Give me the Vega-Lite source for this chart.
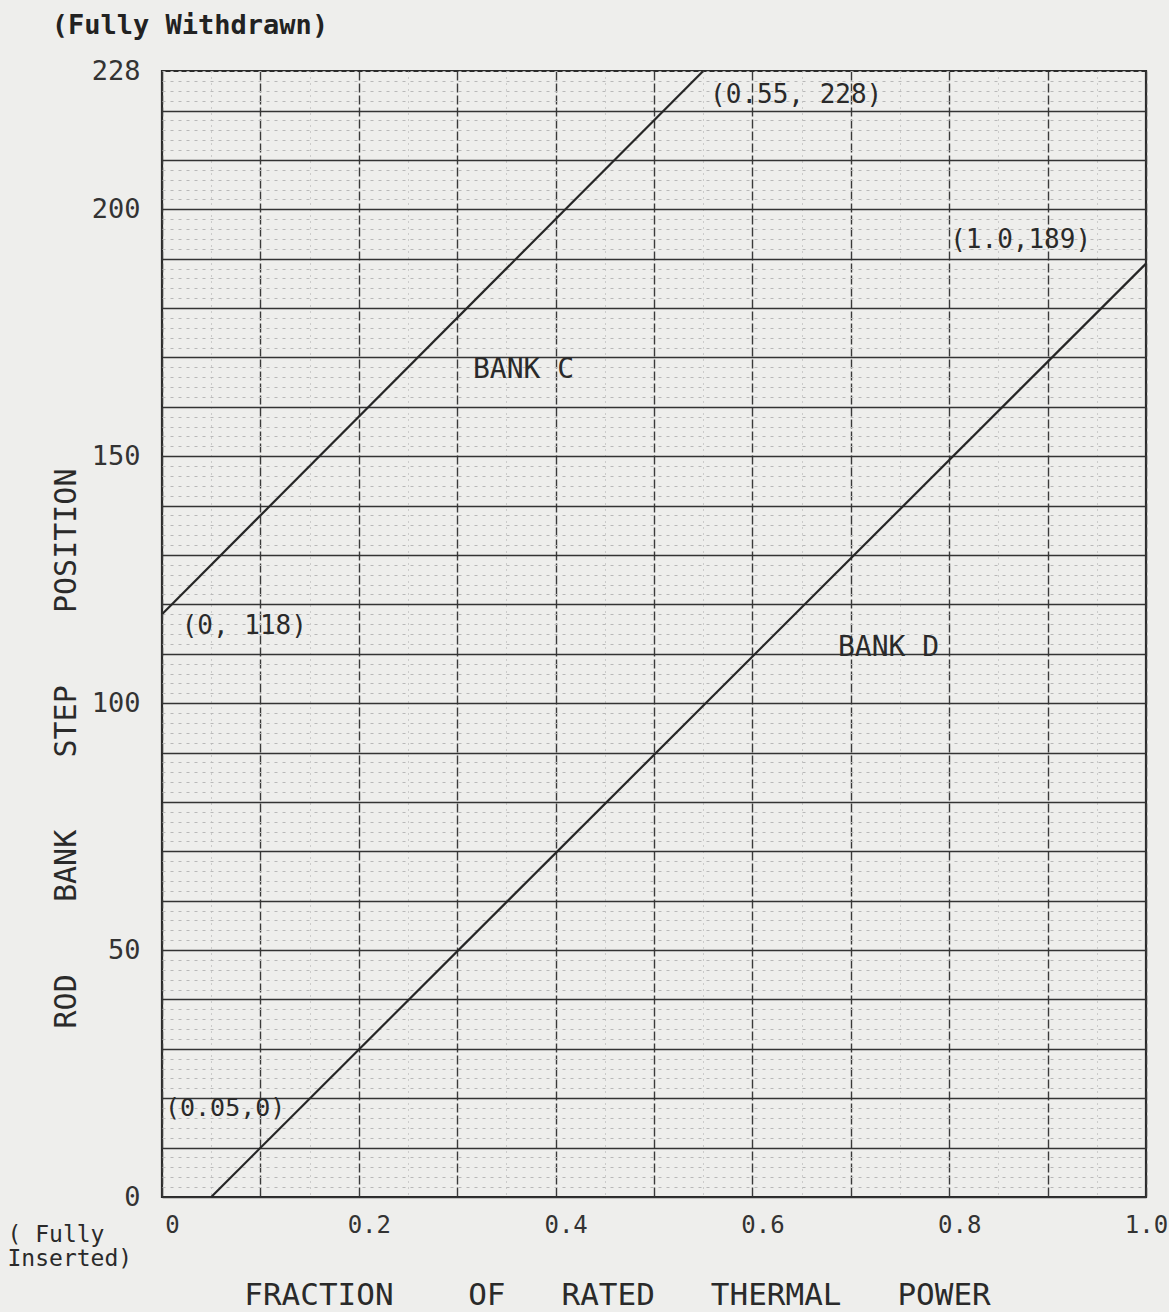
{
  "$schema": "https://vega.github.io/schema/vega-lite/v6.json",
  "width": 984,
  "height": 1126,
  "autosize": {"type": "none"},
  "padding": {"left": 162, "top": 71, "right": 23, "bottom": 115},
  "background": "#eeeeec",
  "config": {
    "view": {"stroke": "#2a2a2a", "strokeWidth": 2.2, "fill": "#eeeeec"},
    "font": "DejaVu Sans Mono"
  },
  "resolve": {"axis": {"y": "independent"}},
  "datasets": {
    "lines": [
      {"bank": "C", "fraction": 0, "steps": 118},
      {"bank": "C", "fraction": 0.55, "steps": 228},
      {"bank": "D", "fraction": 0.05, "steps": 0},
      {"bank": "D", "fraction": 1.0, "steps": 189}
    ],
    "notes": [
      {"label": "(0.55, 228)", "fx": 0.557, "fy": 223.1, "size": 26},
      {"label": "(1.0,189)", "fx": 0.801, "fy": 193.8, "size": 26},
      {"label": "BANK  C", "fx": 0.316, "fy": 167.5, "size": 28},
      {"label": "BANK  D", "fx": 0.687, "fy": 111.2, "size": 28},
      {"label": "(0, 118)", "fx": 0.02, "fy": 115.6, "size": 26},
      {"label": "(0.05,0)", "fx": 0.003, "fy": 18.0, "size": 25}
    ],
    "inserted": [
      {"label": "( Fully\nInserted)", "fx": -0.157, "fy": -5.5}
    ],
    "withdrawn": [
      {"label": "(Fully Withdrawn)", "fx": -0.112, "fy": 239.8}
    ]
  },
  "layer": [
    {
      "data": {"name": "lines"},
      "mark": {"type": "line", "color": "#262626", "strokeWidth": 2.2},
      "encoding": {
        "x": {
          "field": "fraction",
          "type": "quantitative",
          "scale": {"domain": [0, 1], "nice": false, "zero": false},
          "axis": {
            "values": [0, 0.05, 0.1, 0.15, 0.2, 0.25, 0.3, 0.35, 0.4, 0.45, 0.5, 0.55, 0.6, 0.65, 0.7, 0.75, 0.8, 0.85, 0.9, 0.95, 1.0],
            "labelExpr": "round(datum.value*20) % 4 === 0 ? (datum.value === 0 ? '0' : format(datum.value, '.1f')) : ''",
            "labelOverlap": false,
            "labelFlush": false,
            "labelBound": false,
            "labelFont": "DejaVu Sans Mono",
            "labelFontSize": 24,
            "labelColor": "#333333",
            "labelPadding": 16,
            "labelOffset": {"condition": {"test": "datum.value >= 0.99", "value": 0}, "value": 10},
            "ticks": false,
            "domain": false,
            "grid": true,
            "gridColor": {"condition": {"test": "round(datum.value*20) % 2 === 0", "value": "#3a3a3a"}, "value": "#a8a8a8"},
            "gridDash": {"condition": {"test": "round(datum.value*20) % 2 === 0", "value": [9, 3]}, "value": [1, 5]},
            "gridWidth": {"condition": {"test": "round(datum.value*20) % 2 === 0", "value": 1.4}, "value": 1},
            "title": "FRACTION\u00a0\u00a0\u00a0\u00a0OF\u00a0\u00a0\u00a0RATED\u00a0\u00a0\u00a0THERMAL\u00a0\u00a0\u00a0POWER",
            "titleFont": "DejaVu Sans Mono",
            "titleFontSize": 31,
            "titleFontWeight": "normal",
            "titleColor": "#2a2a2a",
            "titleX": 455,
            "titleY": 107,
            "titleAlign": "center",
            "titleBaseline": "alphabetic"
          }
        },
        "y": {
          "field": "steps",
          "type": "quantitative",
          "scale": {"domain": [0, 228], "nice": false, "zero": false},
          "axis": {
            "orient": "left",
            "values": [0,2,4,6,8,10,12,14,16,18,20,22,24,26,28,30,32,34,36,38,40,42,44,46,48,50,52,54,56,58,60,62,64,66,68,70,72,74,76,78,80,82,84,86,88,90,92,94,96,98,100,102,104,106,108,110,112,114,116,118,120,122,124,126,128,130,132,134,136,138,140,142,144,146,148,150,152,154,156,158,160,162,164,166,168,170,172,174,176,178,180,182,184,186,188,190,192,194,196,198,200,202,204,206,208,210,212,214,216,218,220,222,224,226,228],
            "labels": false,
            "ticks": false,
            "domain": false,
            "title": null,
            "grid": true,
            "gridColor": {"condition": {"test": "datum.value % 10 === 0", "value": "#333333"}, "value": "#b8b8b8"},
            "gridDash": {"condition": {"test": "datum.value % 10 === 0", "value": []}, "value": [3, 5]},
            "gridWidth": {"condition": {"test": "datum.value % 10 === 0", "value": 1.7}, "value": 1}
          }
        },
        "detail": {"field": "bank"}
      }
    },
    {
      "data": {"name": "notes"},
      "mark": {"type": "text", "align": "left", "baseline": "middle", "color": "#2a2a2a", "font": "DejaVu Sans Mono"},
      "encoding": {
        "x": {"field": "fx", "type": "quantitative"},
        "y": {
          "field": "fy",
          "type": "quantitative",
          "axis": {
            "orient": "left",
            "values": [0, 50, 100, 150, 200, 228],
            "labelOverlap": false,
            "labelBound": false,
            "labelFlush": false,
            "labelFont": "DejaVu Sans Mono",
            "labelFontSize": 27,
            "labelColor": "#333333",
            "labelPadding": 22,
            "ticks": false,
            "domain": false,
            "grid": false,
            "title": "ROD\u00a0\u00a0\u00a0\u00a0BANK\u00a0\u00a0\u00a0\u00a0STEP\u00a0\u00a0\u00a0\u00a0POSITION",
            "titleFont": "DejaVu Sans Mono",
            "titleFontSize": 30,
            "titleFontWeight": "normal",
            "titleColor": "#2a2a2a",
            "titleAngle": 270,
            "titleX": -87,
            "titleY": 677,
            "titleAlign": "center",
            "titleBaseline": "alphabetic"
          }
        },
        "text": {"field": "label"},
        "size": {"field": "size", "type": "quantitative", "scale": null}
      }
    },
    {
      "data": {"name": "inserted"},
      "mark": {"type": "text", "align": "left", "baseline": "top", "color": "#2a2a2a", "font": "DejaVu Sans Mono", "fontSize": 23, "lineBreak": "\n", "lineHeight": 24},
      "encoding": {
        "x": {"field": "fx", "type": "quantitative"},
        "y": {"field": "fy", "type": "quantitative", "axis": null},
        "text": {"field": "label"}
      }
    },
    {
      "data": {"name": "withdrawn"},
      "mark": {"type": "text", "align": "left", "baseline": "top", "color": "#222222", "font": "DejaVu Sans Mono", "fontSize": 27, "fontWeight": "bold"},
      "encoding": {
        "x": {"field": "fx", "type": "quantitative"},
        "y": {"field": "fy", "type": "quantitative", "axis": null},
        "text": {"field": "label"}
      }
    }
  ]
}
